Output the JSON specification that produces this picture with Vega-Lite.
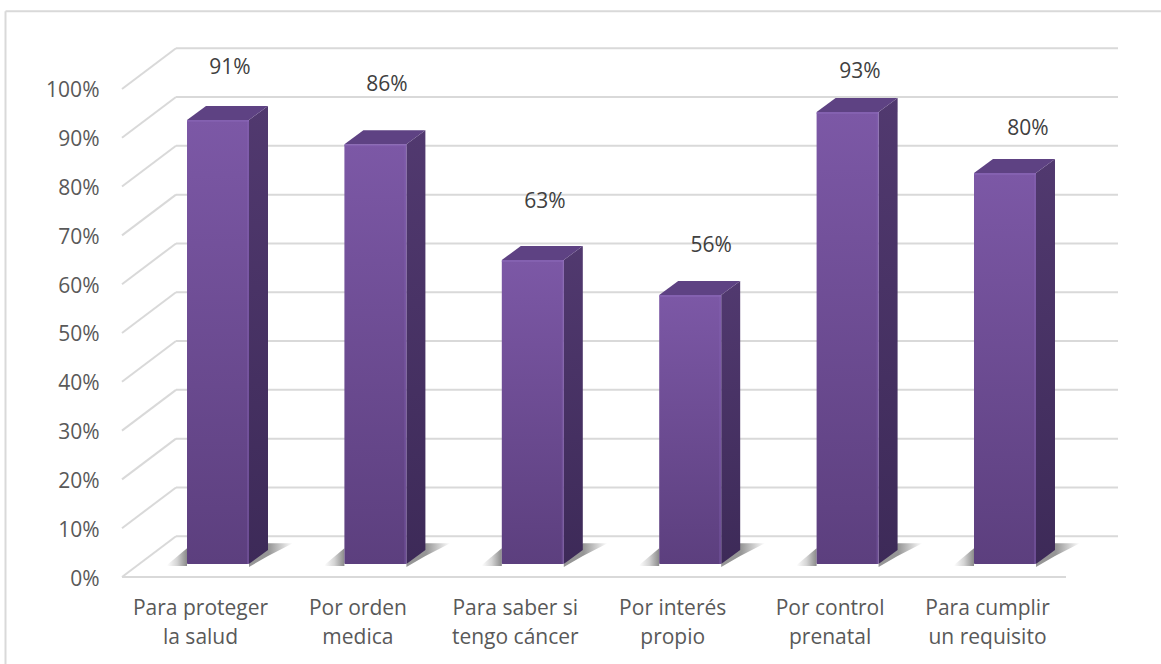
{"$schema":"https://vega.github.io/schema/vega-lite/v6.json","width":996,"height":530,"autosize":"none","padding":{"left":122,"top":47,"right":43,"bottom":87},"background":"white","config":{"view":{"stroke":null},"axis":{"grid":false},"font":"Open Sans"},"datasets":{"bars":[{"cat":1,"v":91,"pct":"91%","labelAt":104.2,"labelX":1.19},{"cat":2,"v":86,"pct":"86%","labelAt":100.9,"labelX":2.188},{"cat":3,"v":62.3,"pct":"63%","labelAt":76.8,"labelX":3.192},{"cat":4,"v":55.1,"pct":"56%","labelAt":67.8,"labelX":4.247},{"cat":5,"v":92.6,"pct":"93%","labelAt":103.5,"labelX":5.193},{"cat":6,"v":80.1,"pct":"80%","labelAt":91.7,"labelX":6.26}],"ticks":[{"tick":0},{"tick":10},{"tick":20},{"tick":30},{"tick":40},{"tick":50},{"tick":60},{"tick":70},{"tick":80},{"tick":90},{"tick":100}]},"layer":[{"data":{"values":[{"a":1}]},"mark":{"type":"rule","color":"#D9D9D9","strokeWidth":2},"encoding":{"x":{"datum":-0.2357,"type":"quantitative","title":null,"scale":{"domain":[0.5044,6.8323],"nice":false,"zero":false},"axis":{"values":[1,2,3,4,5,6],"domain":false,"ticks":false,"labelPadding":20,"labelFont":"Open Sans","labelFontSize":21,"labelColor":"#595959","labelLineHeight":29,"labelAngle":0,"labelExpr":"[['Para proteger','la salud'],['Por orden','medica'],['Para saber si','tengo cáncer'],['Por interés','propio'],['Por control','prenatal'],['Para cumplir','un requisito']][datum.value-1]"}},"y":{"datum":115.9,"type":"quantitative","title":null,"scale":{"domain":[0,108.6],"nice":false},"axis":{"values":[0,10,20,30,40,50,60,70,80,90,100],"domain":false,"ticks":false,"labelPadding":23,"labelOffset":2,"labelFont":"Open Sans","labelFontSize":21,"labelColor":"#595959","labelExpr":"datum.value+'%'"}},"y2":{"datum":-18}}},{"data":{"values":[{"a":1}]},"mark":{"type":"rule","color":"#D9D9D9","strokeWidth":2},"encoding":{"x":{"datum":-0.2357,"type":"quantitative","scale":{"domain":[0.5044,6.8323],"nice":false,"zero":false},"title":null},"x2":{"datum":7.105},"y":{"datum":115.9,"type":"quantitative","scale":{"domain":[0,108.6],"nice":false},"title":null}}},{"data":{"name":"ticks"},"transform":[{"calculate":"datum.tick+8.35","as":"back"}],"mark":{"type":"rule","color":"#D9D9D9","strokeWidth":2},"encoding":{"x":{"datum":0.8475,"type":"quantitative","scale":{"domain":[0.5044,6.8323],"nice":false,"zero":false},"title":null},"x2":{"datum":6.8323},"y":{"field":"back","type":"quantitative","scale":{"domain":[0,108.6],"nice":false},"title":null}}},{"data":{"name":"ticks"},"transform":[{"calculate":"datum.tick+8.35","as":"back"}],"mark":{"type":"rule","color":"#D9D9D9","strokeWidth":2},"encoding":{"x":{"datum":0.5044,"type":"quantitative","scale":{"domain":[0.5044,6.8323],"nice":false,"zero":false},"title":null},"x2":{"datum":0.8475},"y":{"field":"tick","type":"quantitative","scale":{"domain":[0,108.6],"nice":false},"title":null},"y2":{"field":"back"}}},{"data":{"values":[{"tick":0}]},"mark":{"type":"rule","color":"#D9D9D9","strokeWidth":2},"encoding":{"x":{"datum":0.5044,"type":"quantitative","scale":{"domain":[0.5044,6.8323],"nice":false,"zero":false},"title":null},"x2":{"datum":6.502},"y":{"field":"tick","type":"quantitative","scale":{"domain":[0,108.6],"nice":false},"title":null}}},{"data":{"name":"bars"},"transform":[{"calculate":"[0,1]","as":"t"},{"flatten":["t"]},{"calculate":"datum.cat+[-0.2097,-0.0826][datum.t]","as":"x"},{"calculate":"[2.46,5.9][datum.t]","as":"y"},{"calculate":"2.25","as":"y2"}],"mark":{"type":"area","color":{"gradient":"linear","x1":0,"y1":0,"x2":1,"y2":0,"stops":[{"offset":0,"color":"#ffffff"},{"offset":0.5,"color":"#d4d4d4"},{"offset":1,"color":"#8a8a8a"}]}},"encoding":{"detail":{"field":"cat"},"x":{"field":"x","type":"quantitative","scale":{"domain":[0.5044,6.8323],"nice":false,"zero":false},"title":null},"y":{"field":"y","type":"quantitative","scale":{"domain":[0,108.6],"nice":false},"title":null},"y2":{"field":"y2"}}},{"data":{"name":"bars"},"transform":[{"calculate":"[0,1,2]","as":"t"},{"flatten":["t"]},{"calculate":"datum.cat+[0.3113,0.432,0.59][datum.t]","as":"x"},{"calculate":"[2.66,6.9,6.9][datum.t]","as":"y"},{"calculate":"[2.05,4.3,6.9][datum.t]","as":"y2"}],"mark":{"type":"area","color":{"gradient":"linear","x1":0,"y1":0,"x2":1,"y2":0,"stops":[{"offset":0,"color":"#969696"},{"offset":0.45,"color":"#969696"},{"offset":0.75,"color":"#cfcfcf"},{"offset":1,"color":"#ffffff"}]}},"encoding":{"detail":{"field":"cat"},"x":{"field":"x","type":"quantitative","scale":{"domain":[0.5044,6.8323],"nice":false,"zero":false},"title":null},"y":{"field":"y","type":"quantitative","scale":{"domain":[0,108.6],"nice":false},"title":null},"y2":{"field":"y2"}}},{"data":{"name":"bars"},"transform":[{"calculate":"[0,1]","as":"t"},{"flatten":["t"]},{"calculate":"datum.cat+0.3113+datum.t*0.1207","as":"x"},{"calculate":"datum.v+2.66+datum.t*2.87","as":"y"},{"calculate":"2.66+datum.t*2.87","as":"y2"}],"mark":{"type":"area","color":{"gradient":"linear","x1":0,"y1":0,"x2":0,"y2":1,"stops":[{"offset":0,"color":"#51396F"},{"offset":1,"color":"#3D2A58"}]}},"encoding":{"detail":{"field":"cat"},"x":{"field":"x","type":"quantitative","scale":{"domain":[0.5044,6.8323],"nice":false,"zero":false},"title":null},"y":{"field":"y","type":"quantitative","scale":{"domain":[0,108.6],"nice":false},"title":null},"y2":{"field":"y2"}}},{"data":{"name":"bars"},"transform":[{"calculate":"[0,1,2,3]","as":"t"},{"flatten":["t"]},{"calculate":"datum.cat+[-0.0826,0.0381,0.3113,0.432][datum.t]","as":"x"},{"calculate":"datum.v+2.66+[0,2.87,2.87,2.87][datum.t]","as":"y"},{"calculate":"datum.v+2.66+[0,0,0,2.87][datum.t]","as":"y2"}],"mark":{"type":"area","color":"#5E4283"},"encoding":{"detail":{"field":"cat"},"x":{"field":"x","type":"quantitative","scale":{"domain":[0.5044,6.8323],"nice":false,"zero":false},"title":null},"y":{"field":"y","type":"quantitative","scale":{"domain":[0,108.6],"nice":false},"title":null},"y2":{"field":"y2"}}},{"data":{"name":"bars"},"transform":[{"calculate":"datum.cat-0.0826","as":"L"},{"calculate":"datum.cat+0.3113","as":"R"},{"calculate":"datum.v+2.66","as":"T"},{"calculate":"2.66","as":"B"}],"mark":{"type":"rect","cornerRadius":1,"color":{"gradient":"linear","x1":0,"y1":0,"x2":0,"y2":1,"stops":[{"offset":0,"color":"#7C58A6"},{"offset":1,"color":"#5C3F7E"}]}},"encoding":{"x":{"field":"L","type":"quantitative","scale":{"domain":[0.5044,6.8323],"nice":false,"zero":false},"title":null},"x2":{"field":"R"},"y":{"field":"T","type":"quantitative","scale":{"domain":[0,108.6],"nice":false},"title":null},"y2":{"field":"B"}}},{"data":{"name":"bars"},"transform":[{"calculate":"datum.cat+0.2983","as":"L"},{"calculate":"datum.cat+0.3113","as":"R"},{"calculate":"datum.v+2.66","as":"T"},{"calculate":"2.66","as":"B"}],"mark":{"type":"rect","color":"#8A68B8","opacity":0.35},"encoding":{"x":{"field":"L","type":"quantitative","scale":{"domain":[0.5044,6.8323],"nice":false,"zero":false},"title":null},"x2":{"field":"R"},"y":{"field":"T","type":"quantitative","scale":{"domain":[0,108.6],"nice":false},"title":null},"y2":{"field":"B"}}},{"data":{"name":"bars"},"transform":[{"calculate":"datum.cat-0.0826","as":"L"},{"calculate":"datum.cat+0.3113","as":"R"},{"calculate":"datum.v+2.66","as":"T"},{"calculate":"datum.v+2.26","as":"B"}],"mark":{"type":"rect","color":"#8A68B8","opacity":0.6},"encoding":{"x":{"field":"L","type":"quantitative","scale":{"domain":[0.5044,6.8323],"nice":false,"zero":false},"title":null},"x2":{"field":"R"},"y":{"field":"T","type":"quantitative","scale":{"domain":[0,108.6],"nice":false},"title":null},"y2":{"field":"B"}}},{"data":{"name":"bars"},"mark":{"type":"text","font":"Open Sans","fontSize":21,"color":"#404040","align":"center","baseline":"middle"},"encoding":{"x":{"field":"labelX","type":"quantitative","scale":{"domain":[0.5044,6.8323],"nice":false,"zero":false},"title":null},"y":{"field":"labelAt","type":"quantitative","scale":{"domain":[0,108.6],"nice":false},"title":null},"text":{"field":"pct"}}}]}
